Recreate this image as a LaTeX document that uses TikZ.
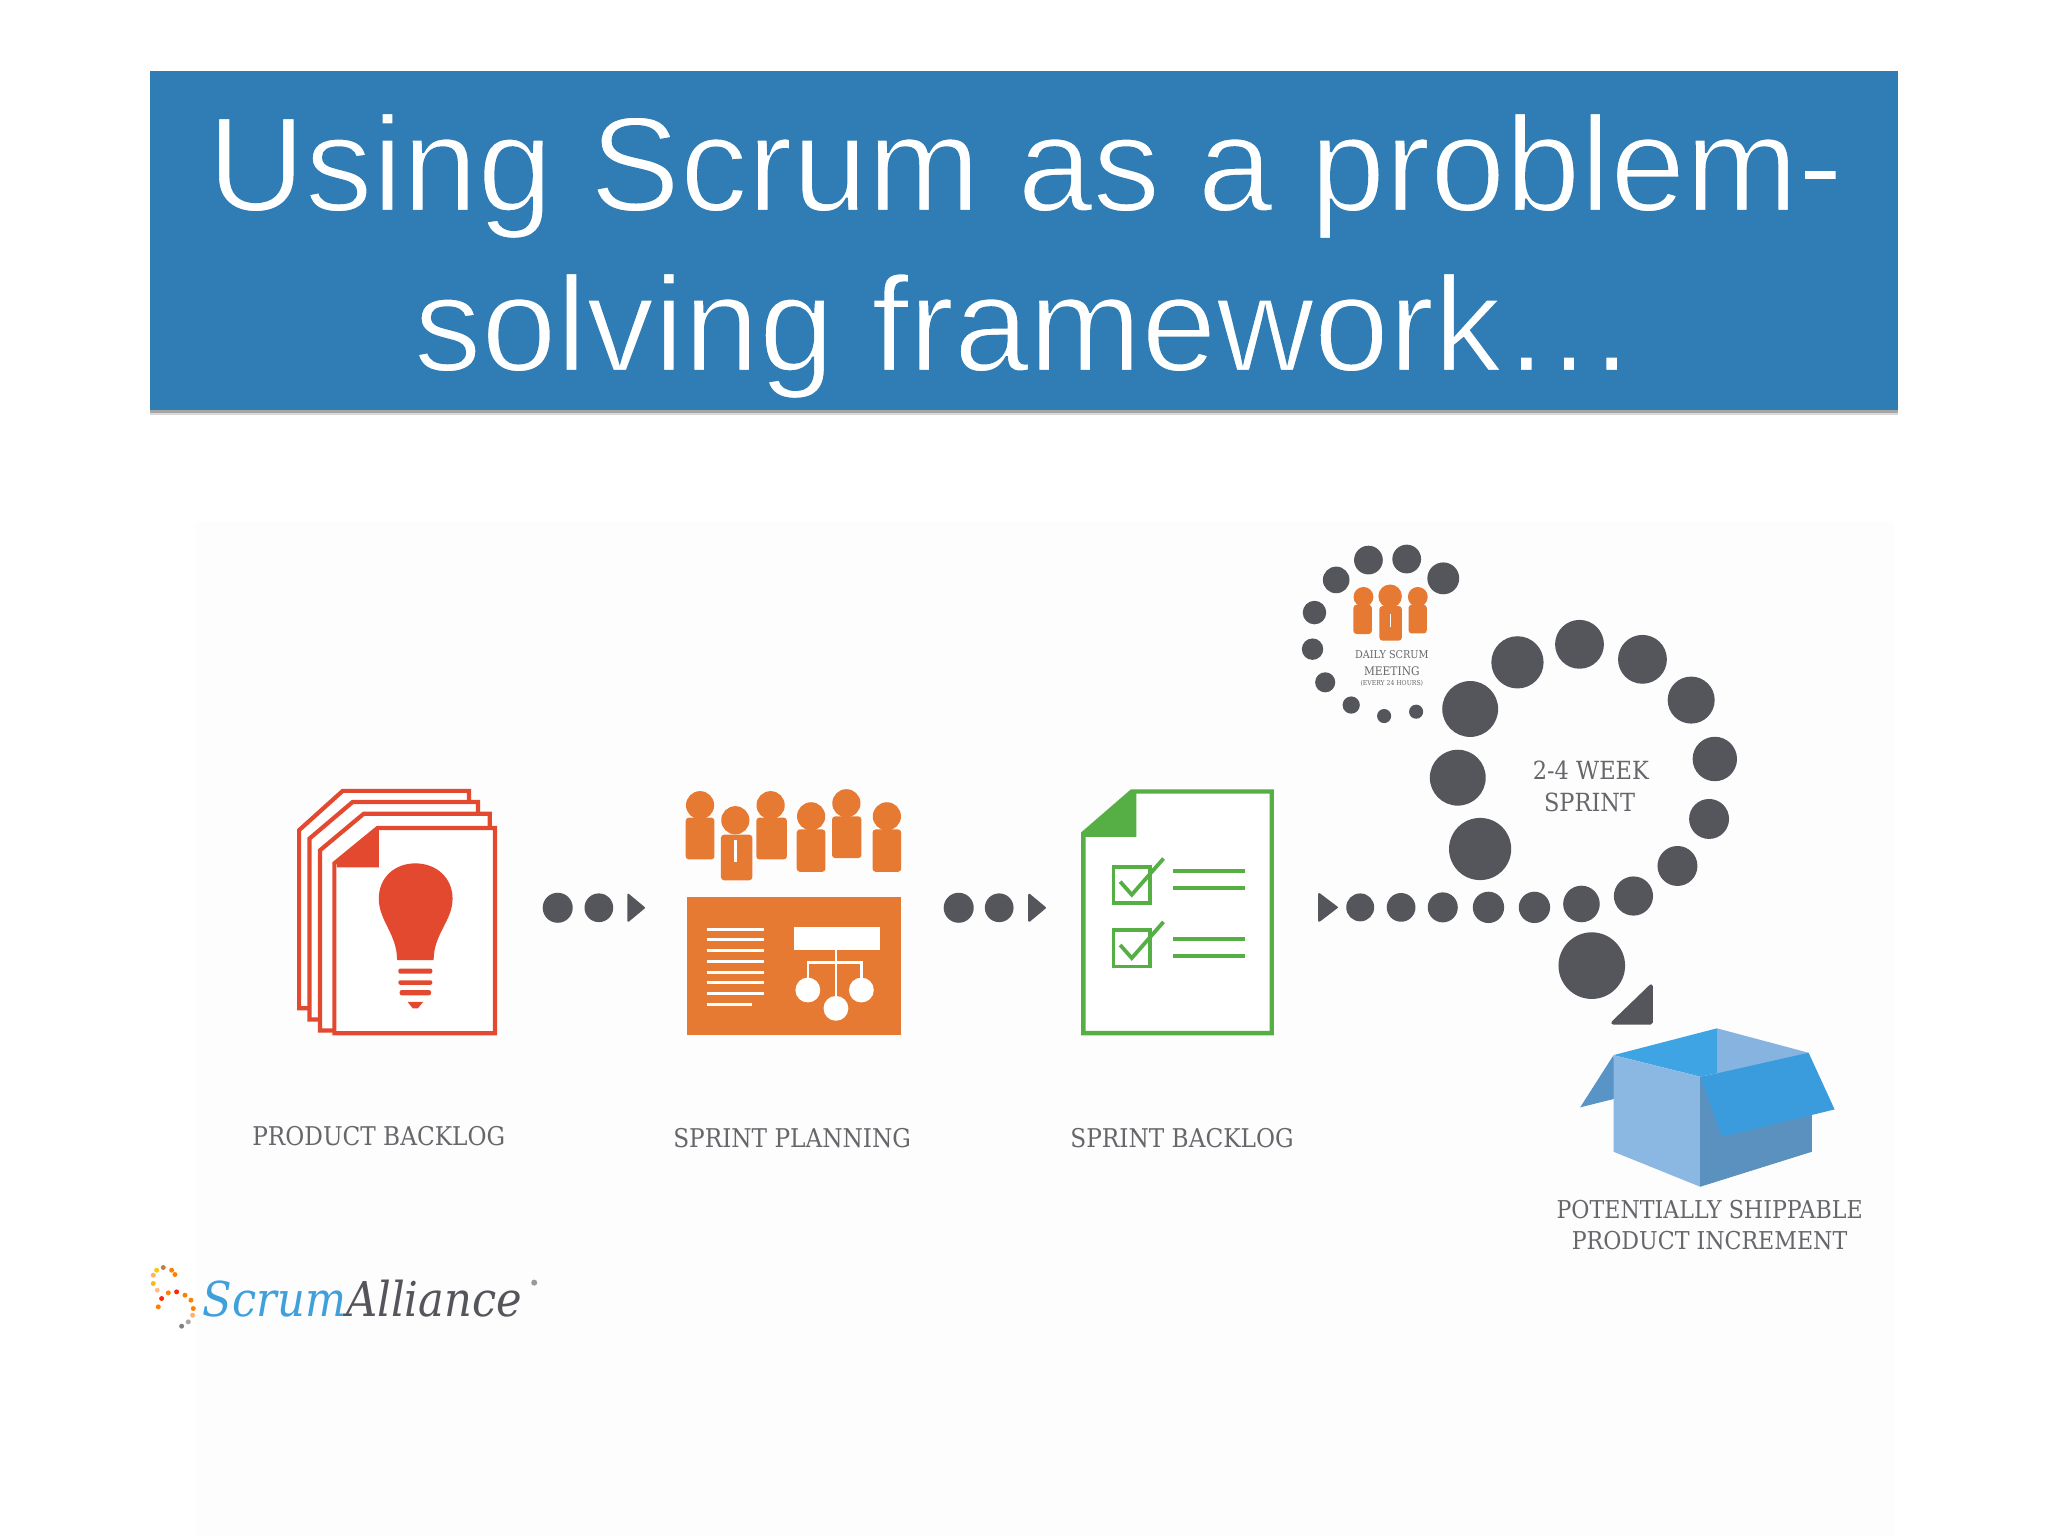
\documentclass[tikz,border=0pt]{standalone}
\usepackage{fontspec}
\setmainfont{Liberation Sans}
\newfontfamily\slab{DejaVu Serif Condensed}
\newfontfamily\logofont{DejaVu Serif Condensed}[ItalicFont={DejaVu Serif Condensed Italic}]
\definecolor{banner}{HTML}{2F7DB4}
\definecolor{dotc}{HTML}{55565B}
\definecolor{redc}{HTML}{E2492F}
\definecolor{orangec}{HTML}{E77A32}
\definecolor{greenc}{HTML}{55AF45}
\definecolor{labelc}{HTML}{66676B}
\newcommand{\thintext}[1]{\special{pdf:code q 2 Tr 0.184 0.49 0.706 RG 1.1 w}#1\special{pdf:code Q}}
\begin{document}
\begin{tikzpicture}[x=0.65306pt,y=-0.65306pt,
  pageline/.style={draw=redc,line width=2.1pt,fill=white,line join=miter},
  person/.style={fill=orangec,rounded corners=1.6pt},
  steel/.style={fill=dotc},
  wline/.style={draw=white,line width=1.6pt},
  gline/.style={draw=greenc,line width=2.2pt},
  glab/.style={text=labelc,font=\slab\fontsize{12.9}{15}\selectfont,inner sep=0pt,align=center},
  tri/.style={fill=dotc,draw=dotc,line width=1pt,line join=round}]
\useasboundingbox (0,0) rectangle (1568,1176);
\fill[white] (0,0) rectangle (1568,1176);
\fill[black!0.6] (150,400) rectangle (1450,1176);
% banner
\fill[black!15] (115,57) rectangle (1453,318);
\fill[black!35] (115,57) rectangle (1453,316);
\fill[banner] (115,54) rectangle (1453,314);
\node[name=title,text=white,align=center,inner sep=0pt,anchor=center,font=\fontsize{67.5}{80}\selectfont] at (785,196) {\thintext{Using Scrum as a problem-}\\\thintext{solving framework…}};
% product backlog pages
\draw[pageline] (237,772) -- (229,772) -- (229,635.6) -- (262.4,605.5) -- (359,605.5) -- (359,614);
\draw[pageline] (245,780.5) -- (237,780.5) -- (237,642) -- (270,614) -- (366,614) -- (366,623);
\draw[pageline] (256,789) -- (245,789) -- (245,651) -- (278.5,623) -- (375,623) -- (375,634);
\draw[pageline] (256,661) -- (289,634) -- (379,634) -- (379,791) -- (256,791) -- cycle;
\fill[redc] (258,661) -- (290,635) -- (290,664) -- (258,664) -- cycle;
\fill[redc] (304,735) .. controls (304,715) and (290,705) .. (290,688) .. controls (290,672) and (302,661) .. (318,661) .. controls (334,661) and (346.5,672) .. (346.5,688) .. controls (346.5,705) and (332,715) .. (332,735) -- cycle;
\fill[redc,rounded corners=1pt] (305,741.5) rectangle (331,745.5) (305,750.5) rectangle (331,754) (306,758) rectangle (330,762);
\fill[redc] (312,767) -- (324,767) -- (320,772) -- (316,772) -- cycle;
% connector dots 1
\foreach \cx/\cy/\r in {427/695/11.5,458.5/695/11,734/695/11.5,765/695/11}
  \fill[steel] (\cx,\cy) circle (\r);
\fill[tri] (481,685) -- (493,695) -- (481,705) -- cycle;
\fill[tri] (788,685) -- (800,695) -- (788,705) -- cycle;
% sprint planning people
\foreach \hx/\hy/\l/\r/\t/\b in {536/616.5/525/547/626/658,590/616.5/579/602.5/626/658,621/625/610/632/635/667.5,648/615/637/659.5/625/657,679/625/668/690/635/667.5,563/628/552/576/639/674}{
  \fill[orangec] (\hx,\hy) circle (10.8);
  \fill[person] (\l,\t) rectangle (\r,\b);
}
\draw[wline] (563,643) -- (563,660);
\fill[orangec] (526,686.6) rectangle (690,792.5);
\foreach \ly in {711.4,719.3,727.7,735.9,744.3,752.5,760.6}
  \draw[wline] (541,\ly) -- (585,\ly);
\draw[wline] (541,768.8) -- (576,768.8);
\fill[white] (608,710) rectangle (674,727);
\draw[wline,line width=1.2pt] (640,727) -- (640,772) (618.5,758) -- (618.5,737) -- (659.5,737) -- (659.5,758);
\foreach \cx/\cy in {618.5/758,659.5/758,640/772} \fill[white] (\cx,\cy) circle (9.5);
% sprint backlog
\draw[gline,fill=white,line join=miter] (829.5,638) -- (866.5,606) -- (973.7,606) -- (973.7,791) -- (829.5,791) -- cycle;
\fill[greenc] (829.5,638) -- (866.5,606) -- (870,606) -- (870,640.7) -- (829.5,640.7) -- cycle;
\foreach \dy in {0,48.5}{
  \begin{scope}[yshift={-\dy*0.65306pt}]
  \draw[gline,line width=1.9pt] (852.5,663.5) rectangle (880.5,691.5);
  \draw[gline,line width=1.9pt,line join=miter] (857.6,675) -- (866.5,685) -- (890.8,657.3);
  \end{scope}
}
\foreach \ly in {667,680,719,732} \draw[gline,line width=1.9pt] (898,\ly) -- (953,\ly);
% sprint loop
\fill[tri] (1010,684.5) -- (1023.5,694.7) -- (1010,705) -- cycle;
\foreach \cx/\cy/\r in {1047.7/428.8/11,1077/428/11,1105/442.8/12.2,1023/444/10.2,1006.4/469/9,1004.9/497/8.2,1014.6/522.4/7.7,1034.5/539.8/6.6,1059.7/548.2/5.4,1084.2/544.9/5.4,
  1161.8/507.1/20,1209.3/493.3/18.7,1257.5/504.8/18.7,1294.8/536/18,1312.9/581.1/17,1308.5/627/15.3,1284.3/663/15.3,1250.6/686/15,1210.8/692.1/14,1174.8/694.7/12,1139.6/694.7/12,1104.6/694.7/11.5,1072.7/694.7/11,1041.4/694.7/10.7,
  1125.6/542.8/21.4,1116.1/595.4/21.4,1133.2/650/23.8,1218.7/739.3/25.5}
  \fill[steel] (\cx,\cy) circle (\r);
\fill[tri,line width=1.8pt] (1235,783) -- (1264,755) -- (1264,783) -- cycle;
% daily scrum people
\fill[orangec] (1043.9,457) circle (7.6) (1064.3,456.5) circle (9) (1085.5,457) circle (7.6);
\fill[person] (1036.2,463) rectangle (1050.3,485.4) (1056.1,464) rectangle (1073.3,490.5) (1078.4,463) rectangle (1092.4,485);
\draw[white,line width=.6pt] (1064.5,470) -- (1064.5,480);
\node[name=daily1,glab,font=\slab\fontsize{5.4}{6}\selectfont] at (1065.6,501) {DAILY SCRUM};
\node[name=daily2,glab,font=\slab\fontsize{5.9}{6}\selectfont] at (1065.6,514) {MEETING};
\node[name=daily3,glab,font=\slab\fontsize{3.4}{4}\selectfont] at (1065.6,523) {(EVERY 24 HOURS)};
\node[name=sprint1,glab,font=\slab\fontsize{12.5}{15}\selectfont] at (1218,590) {2-4 WEEK};
\node[name=sprint2,glab,font=\slab\fontsize{12.5}{15}\selectfont] at (1217,614) {SPRINT};
% box
\fill[fill={rgb,255:red,88;green,148;blue,197}] (1209.8,847.8) -- (1235.4,807.8) -- (1237,841) -- cycle;
\fill[fill={rgb,255:red,134;green,179;blue,223}] (1314.5,787.3) -- (1384.7,806) -- (1314.5,825) -- cycle;
\fill[fill={rgb,255:red,63;green,164;blue,227}] (1235.4,807.8) -- (1314.5,787.3) -- (1314.5,821.8) -- (1301.7,824.3) -- cycle;
\fill[fill={rgb,255:red,139;green,184;blue,227}] (1235.4,807.8) -- (1301.7,824.3) -- (1301.7,908.6) -- (1235.4,881.8) -- cycle;
\fill[fill={rgb,255:red,91;green,145;blue,190}] (1301.7,824.3) -- (1387.2,830) -- (1387.2,881.8) -- (1301.7,908.6) -- cycle;
\fill[fill={rgb,255:red,58;green,156;blue,221}] (1301.7,824.3) -- (1314.5,821.8) -- (1384.7,806) -- (1404.6,849.4) -- (1318.3,870.3) -- cycle;
\node[name=ship1,glab,font=\slab\fontsize{12.3}{15}\selectfont] at (1308.9,926.4) {POTENTIALLY SHIPPABLE};
\node[name=ship2,glab,font=\slab\fontsize{12.3}{15}\selectfont] at (1308.9,949.4) {PRODUCT INCREMENT};
% labels
\node[name=lab1,glab] at (290,870) {PRODUCT BACKLOG};
\node[name=lab2,glab] at (606.5,871) {SPRINT PLANNING};
\node[name=lab3,glab] at (905,871) {SPRINT BACKLOG};
% logo
\foreach \zx/\zy/\c in {70/105/orange!60,80/90/yellow!60!orange,100/82/orange!50!gray,125/90/orange,135/103/orange,70/130/yellow!50!orange,82/150/orange!50,85/200/orange,95/175/red!70!orange,115/158/orange,140/155/red!70!orange,165/165/orange,183/180/orange,190/205/orange,188/225/orange!60,175/245/gray!70,155/258/gray}
  \fill[\c] ({99.5+\zx*.2552},{949.5+\zy*.2552}) circle (1.9);
\node[name=logo,anchor=base west,inner sep=0pt,font=\logofont\itshape\fontsize{24}{28}\selectfont] at (155,1008) {\textcolor[HTML]{3FA0DB}{Scrum}\textcolor[HTML]{55565B}{Alliance}};
\fill[black!40] (409,982) circle (2.3);
\end{tikzpicture}
\end{document}
